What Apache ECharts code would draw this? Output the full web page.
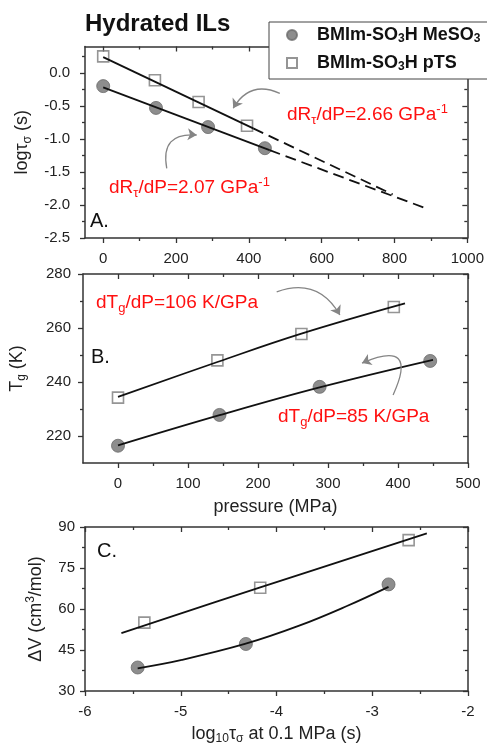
<!DOCTYPE html>
<html><head><meta charset="utf-8">
<script src="https://cdn.jsdelivr.net/npm/echarts@6/dist/echarts.min.js"></script>
<style>html,body{margin:0;padding:0;background:#fff}#c{width:487px;height:746px}</style>
</head><body><div id="c"></div>
<script>
// ---------- Panel A: log tau vs pressure ----------
const pA_MeSO3 = [0, 145, 288, 444];
const logTau_MeSO3 = [-0.20, -0.53, -0.82, -1.14];
const pA_pTS = [0, 142, 262, 395];
const logTau_pTS = [0.25, -0.11, -0.44, -0.80];
const fitA_pTS_x = [0, 412], fitA_pTS_y = [0.24, -0.84];
const extA_pTS_x = [412, 795], extA_pTS_y = [-0.84, -1.84];
const fitA_MeSO3_x = [0, 457], fitA_MeSO3_y = [-0.22, -1.17];
const extA_MeSO3_x = [457, 891], extA_MeSO3_y = [-1.17, -2.06];
const ticksA_x = [0, 200, 400, 600, 800, 1000], minorA_x = [100, 300, 500, 700, 900];
const ticksA_y = [-2.5, -2.0, -1.5, -1.0, -0.5, 0.0], minorA_y = [-2.25, -1.75, -1.25, -0.75, -0.25, 0.25];

// ---------- Panel B: Tg vs pressure ----------
const pB_MeSO3 = [0, 145, 288, 446];
const Tg_MeSO3 = [216.4, 227.8, 238.2, 247.8];
const pB_pTS = [0, 142, 262, 394];
const Tg_pTS = [234.2, 248.0, 257.8, 267.8];
const fitB_MeSO3_x = [0, 145, 288, 450], fitB_MeSO3_y = [216.5, 227.7, 238.0, 248.2];
const fitB_pTS_x = [0, 142, 262, 410], fitB_pTS_y = [234.5, 247.4, 257.9, 269.1];
const ticksB_x = [0, 100, 200, 300, 400, 500], minorB_x = [50, 150, 250, 350, 450];
const ticksB_y = [220, 240, 260, 280], minorB_y = [230, 250, 270];

// ---------- Panel C: activation volume vs log tau at 0.1 MPa ----------
const lt0_MeSO3 = [-5.45, -4.32, -2.83];
const dV_MeSO3 = [38.6, 47.2, 69.0];
const lt0_pTS = [-5.38, -4.17, -2.62];
const dV_pTS = [55.0, 67.8, 85.2];
const fitC_pTS_x = [-5.62, -4.17, -2.43], fitC_pTS_y = [51.2, 67.9, 87.7];
const fitC_MeSO3_x = [-5.45, -5.0, -4.33, -3.77, -3.27, -2.83], fitC_MeSO3_y = [38.3, 41.3, 47.2, 53.8, 61.0, 68.1];
const ticksC_x = [-6, -5, -4, -3, -2], minorC_x = [-5.5, -4.5, -3.5, -2.5];
const ticksC_y = [30, 45, 60, 75, 90], minorC_y = [37.5, 52.5, 67.5, 82.5];

// annotation arrows (data coordinates): start, end, curveness
const arrowA1 = [[485, -0.31], [357, -0.535], -0.45];
const arrowA2 = [[174.5, -1.444], [256.7, -0.94], 0.65];
const arrowB1 = [[226.7, 273.4], [317, 264.8], 0.42];
const arrowB2 = [[393, 235.2], [348.6, 247.0], -1.3];

const FONT = "'Liberation Sans', Arial, sans-serif";
const AX = '#333';
const zip = (xs, ys) => xs.map((x, i) => [x, ys[i]]);

function axisSet(dim, grid, min, max, major, minor, fmt, margin, extra) {
  const pos = dim === 'x' ? ['bottom', 'top'] : ['left', 'right'];
  const base = {gridIndex: grid, type: 'value', min: min, max: max, splitLine: {show: false}, axisPointer: {show: false}};
  const line = {show: true, onZero: false, lineStyle: {color: AX, width: 1.5}};
  const noLine = {show: false, onZero: false};
  const tk = (vals, len, inside) => ({show: true, inside: inside, length: len, customValues: vals, lineStyle: {color: AX, width: 1.3}});
  const blank = vals => ({show: true, customValues: vals, formatter: () => '', fontSize: 1});
  const main = Object.assign({}, base, {
    position: pos[0], axisLine: line, axisTick: tk(major, 5, false),
    axisLabel: {show: true, customValues: major, formatter: fmt, color: '#222', fontSize: 15, fontFamily: FONT, margin: margin}
  }, extra || {});
  const mainMinor = Object.assign({}, base, {position: pos[0], axisLine: noLine, axisTick: tk(minor, 3, false), axisLabel: blank(minor)});
  const mirror = Object.assign({}, base, {position: pos[1], axisLine: line, axisTick: tk(major, 5, true), axisLabel: blank(major)});
  const mirrorMinor = Object.assign({}, base, {position: pos[1], axisLine: noLine, axisTick: tk(minor, 3, true), axisLabel: blank(minor)});
  return [main, mainMinor, mirror, mirrorMinor];
}

const nameStyle = {
  color: '#222', fontSize: 18, fontFamily: FONT,
  rich: {
    a: {fontSize: 18, fontFamily: FONT, color: '#222', lineHeight: 22},
    s: {fontSize: 12, fontFamily: FONT, color: '#222', lineHeight: 12, verticalAlign: 'bottom'},
    p: {fontSize: 12, fontFamily: FONT, color: '#222', lineHeight: 12, verticalAlign: 'top'}
  }
};

const xAxes = [].concat(
  axisSet('x', 0, -50, 1000, ticksA_x, minorA_x, v => String(v), 13),
  axisSet('x', 1, -50, 500, ticksB_x, minorB_x, v => String(v), 13,
    {name: 'pressure (MPa)', nameLocation: 'middle', nameGap: 35, nameTextStyle: nameStyle}),
  axisSet('x', 2, -6, -2, ticksC_x, minorC_x, v => String(v), 13,
    {name: '{a|log}{s|10}{a|τ}{s|σ}{a| at 0.1 MPa (s)}', nameLocation: 'middle', nameGap: 32, nameTextStyle: nameStyle})
);
const yAxes = [].concat(
  axisSet('y', 0, -2.5, 0.4, ticksA_y, minorA_y, v => v.toFixed(1), 15,
    {name: '{a|log}{a|τ}{s|σ}{a| (s)}', nameLocation: 'middle', nameGap: 48, nameTextStyle: nameStyle}),
  axisSet('y', 1, 210, 280, ticksB_y, minorB_y, v => String(v), 12,
    {name: '{a|T}{s|g}{a| (K)}', nameLocation: 'middle', nameGap: 55, nameTextStyle: nameStyle}),
  axisSet('y', 2, 30, 90, ticksC_y, minorC_y, v => String(v), 10,
    {name: '{a|ΔV (cm}{p|3}{a|/mol)}', nameLocation: 'middle', nameGap: 38, nameTextStyle: nameStyle})
);

const circleStyle = {color: '#707070', borderColor: '#6a6a6a', borderWidth: 1};
const squareStyle = {color: 'rgba(255,255,255,0)', borderColor: '#7a7a7a', borderWidth: 1.6};

function pts(name, panel, xs, ys, isSq) {
  return {type: 'scatter', name: name, xAxisIndex: panel * 4, yAxisIndex: panel * 4,
    symbol: isSq ? 'rect' : 'circle', symbolSize: isSq ? 11 : 13,
    itemStyle: isSq ? squareStyle : circleStyle, data: zip(xs, ys), z: 2, silent: true};
}
function fit(panel, xs, ys, dashed, smooth) {
  return {type: 'line', name: 'fit', xAxisIndex: panel * 4, yAxisIndex: panel * 4,
    showSymbol: false, symbol: 'none', smooth: smooth ? 0.4 : false, silent: true, z: 3,
    lineStyle: {color: '#111', width: 1.8, type: dashed ? [11, 6] : 'solid'},
    data: zip(xs, ys)};
}
function arrow(panel, a) {
  return {type: 'lines', name: 'arrow', coordinateSystem: 'cartesian2d',
    xAxisIndex: panel * 4, yAxisIndex: panel * 4, silent: true, z: 4,
    symbol: ['none', 'arrow'], symbolSize: 9,
    lineStyle: {color: '#858585', width: 1.3, type: 'solid', curveness: a[2], opacity: 1},
    itemStyle: {color: '#606060'},
    data: [{coords: [a[0], a[1]]}]};
}

const series = [
  pts('MeSO3', 0, pA_MeSO3, logTau_MeSO3, false),
  pts('pTS', 0, pA_pTS, logTau_pTS, true),
  fit(0, fitA_pTS_x, fitA_pTS_y, false, false),
  fit(0, extA_pTS_x, extA_pTS_y, true, false),
  fit(0, fitA_MeSO3_x, fitA_MeSO3_y, false, false),
  fit(0, extA_MeSO3_x, extA_MeSO3_y, true, false),
  arrow(0, arrowA1),
  arrow(0, arrowA2),
  pts('MeSO3', 1, pB_MeSO3, Tg_MeSO3, false),
  pts('pTS', 1, pB_pTS, Tg_pTS, true),
  fit(1, fitB_pTS_x, fitB_pTS_y, false, true),
  fit(1, fitB_MeSO3_x, fitB_MeSO3_y, false, true),
  arrow(1, arrowB1),
  arrow(1, arrowB2),
  pts('MeSO3', 2, lt0_MeSO3, dV_MeSO3, false),
  pts('pTS', 2, lt0_pTS, dV_pTS, true),
  fit(2, fitC_pTS_x, fitC_pTS_y, false, true),
  fit(2, fitC_MeSO3_x, fitC_MeSO3_y, false, true)
];

const red = '#ff1010';
const annRich = {
  a: {fontSize: 19, fontFamily: FONT, fill: red, lineHeight: 24},
  s: {fontSize: 13, fontFamily: FONT, fill: red, lineHeight: 13, verticalAlign: 'bottom'},
  p: {fontSize: 13, fontFamily: FONT, fill: red, lineHeight: 13, verticalAlign: 'top'}
};
function ann(x, y, text) {
  return {type: 'text', x: x, y: y, z: 10, silent: true,
    style: {text: text, rich: annRich, fill: red, font: '19px ' + FONT, verticalAlign: 'middle'}};
}
function letter(x, y, t) {
  return {type: 'text', x: x, y: y, z: 10, silent: true,
    style: {text: t, fill: '#111', font: '20px ' + FONT, verticalAlign: 'middle'}};
}

const option = {
  animation: false,
  backgroundColor: '#fff',
  grid: [
    {left: 85, right: 19, top: 46.5, bottom: 508},
    {left: 83, right: 19, top: 274, bottom: 283},
    {left: 85, right: 19, top: 527, bottom: 51}
  ],
  xAxis: xAxes,
  yAxis: yAxes,
  legend: {
    show: true, orient: 'vertical', left: 269, top: 22, align: 'left',
    data: ['MeSO3', 'pTS'], selectedMode: false,
    itemWidth: 10, itemHeight: 10, itemGap: 9,
    padding: [4, 40, 6, 17],
    borderColor: '#444', borderWidth: 1, backgroundColor: '#fff',
    formatter: n => n === 'MeSO3'
      ? '{sp|}{b|BMIm-SO}{s|3}{b|H MeSO}{s|3}'
      : '{sp|}{b|BMIm-SO}{s|3}{b|H pTS}',
    textStyle: {
      rich: {
        sp: {width: 15},
        b: {fontSize: 18, fontWeight: 'bold', fontFamily: FONT, color: '#111', lineHeight: 20},
        s: {fontSize: 12, fontWeight: 'bold', fontFamily: FONT, color: '#111', lineHeight: 12, verticalAlign: 'bottom'}
      }
    }
  },
  graphic: [
    {type: 'text', x: 85, y: 24, z: 10, silent: true,
      style: {text: 'Hydrated ILs', fill: '#111', font: 'bold 24px ' + FONT, verticalAlign: 'middle'}},
    ann(287, 115, '{a|dR}{s|τ}{a|/dP=2.66 GPa}{p|-1}'),
    ann(109, 188, '{a|dR}{s|τ}{a|/dP=2.07 GPa}{p|-1}'),
    ann(96, 302.5, '{a|dT}{s|g}{a|/dP=106 K/GPa}'),
    ann(278, 416.7, '{a|dT}{s|g}{a|/dP=85 K/GPa}'),
    letter(90, 221.3, 'A.'),
    letter(91, 357.5, 'B.'),
    letter(97, 551.7, 'C.')
  ],
  series: series
};

const chart = echarts.init(document.getElementById('c'), null, {renderer: 'canvas'});
chart.setOption(option);
</script>
</body></html>
